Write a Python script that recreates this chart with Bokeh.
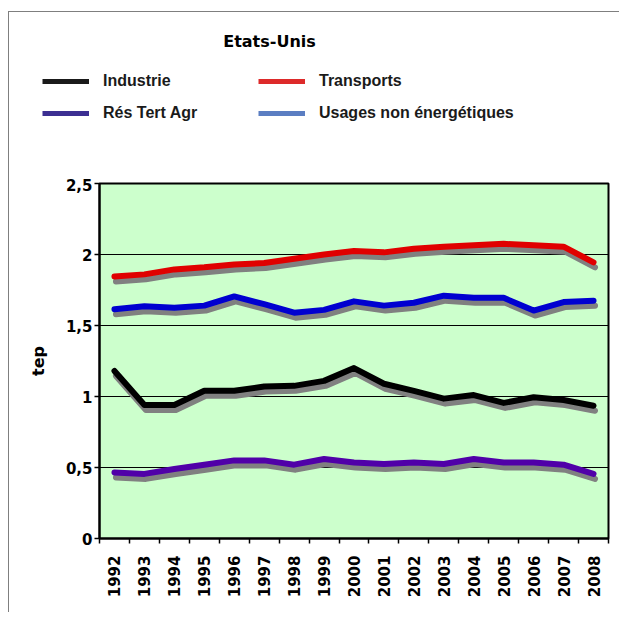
import math
from bokeh.plotting import figure
from bokeh.layouts import column, row
from bokeh.models import Range1d, FixedTicker, Legend, LegendItem, Label
from bokeh.embed import file_html
from bokeh.resources import INLINE

years = list(range(1992, 2009))
industrie = [1.18, 0.94, 0.94, 1.04, 1.04, 1.07, 1.075, 1.11, 1.20, 1.09, 1.04, 0.985, 1.01, 0.955, 0.995, 0.975, 0.935]
transports = [1.845, 1.86, 1.895, 1.91, 1.93, 1.94, 1.97, 2.0, 2.025, 2.015, 2.04, 2.055, 2.065, 2.075, 2.065, 2.055, 1.945]
usages = [1.615, 1.635, 1.625, 1.64, 1.705, 1.65, 1.59, 1.61, 1.67, 1.64, 1.66, 1.71, 1.695, 1.695, 1.605, 1.665, 1.675]
residentiel = [0.465, 0.455, 0.49, 0.52, 0.55, 0.55, 0.52, 0.56, 0.535, 0.525, 0.535, 0.525, 0.56, 0.535, 0.535, 0.52, 0.455]
y_ticks = [0, 0.5, 1, 1.5, 2, 2.5]
y_tick_labels = ["0", "0,5", "1", "1,5", "2", "2,5"]

series = [
    ("Industrie", industrie, "#000000", "#1a1a1a"),
    ("Transports", transports, "#e00000", "#dd2a2a"),
    ("Rés Tert Agr", residentiel, "#5000a8", "#3c2f92"),
    ("Usages non énergétiques", usages, "#0000d0", "#5b7ec2"),
]

TOP_H = 166
W = 610
NAN = float("nan")

# ---------- header figure: title + legend ----------
top = figure(width=W, height=TOP_H, output_backend="svg", toolbar_location=None,
             x_range=Range1d(0, W), y_range=Range1d(0, TOP_H),
             x_axis_type=None, y_axis_type=None,
             min_border=0, outline_line_color=None,
             background_fill_color="white", border_fill_color="white")
top.xgrid.visible = False
top.ygrid.visible = False

top.add_layout(Label(x=260, y=137, x_units="screen", y_units="screen", text="Etats-Unis",
                     text_align="center", text_baseline="middle",
                     text_font="DejaVu Sans", text_font_style="bold", text_font_size="16px",
                     text_color="black"))

items = {}
for name, vals, col, lcol in series:
    r = top.line([NAN, NAN], [NAN, NAN], line_color=lcol, line_width=5)
    items[name] = LegendItem(label=name, renderers=[r])

legend = Legend(items=[items["Industrie"], items["Rés Tert Agr"], items["Transports"],
                       items["Usages non énergétiques"]],
                orientation="vertical", ncols=2,
                location=(33, 55), margin=0, padding=0,
                glyph_width=47, glyph_height=20, label_standoff=14, spacing=12,
                label_width=143, label_height=20,
                border_line_alpha=0, background_fill_alpha=0,
                label_text_font="Liberation Sans", label_text_font_style="bold",
                label_text_font_size="16px", label_text_color="#1a1a1a")
top.add_layout(legend)

# ---------- chart ----------
p = figure(width=W, height=600 - TOP_H, output_backend="svg", toolbar_location=None,
           title=None,
           x_range=Range1d(1991.5, 2008.5), y_range=Range1d(0, 2.5),
           min_border_left=90, min_border_right=11, min_border_top=5, min_border_bottom=74,
           background_fill_color="#ccffcc", border_fill_color="white",
           outline_line_color="black", outline_line_width=2)

# shadow ranges (shift lines a few pixels down / right)
d = 5 / 142
p.extra_y_ranges = {"sy": Range1d(0 + d, 2.5 + d)}
p.extra_x_ranges = {"sx": Range1d(1991.5 - 0.05, 2008.5 - 0.05)}

for name, vals, col, lcol in series:
    p.line(years, vals, line_color="#808080", line_width=6, line_join="round", line_cap="round",
           x_range_name="sx", y_range_name="sy")
for name, vals, col, lcol in series:
    p.line(years, vals, line_color=col, line_width=6, line_join="round", line_cap="round")

# y axis
ya = p.yaxis[0]
ya.ticker = FixedTicker(ticks=y_ticks)
ya.major_label_overrides = {t: l for t, l in zip(y_ticks, y_tick_labels)}
ya.major_tick_out = 5
ya.major_tick_in = 0
ya.minor_tick_out = 0
ya.minor_tick_in = 0
ya.axis_line_width = 2
ya.major_tick_line_width = 1.5
ya.major_label_standoff = 2
ya.major_label_text_font = "DejaVu Sans"
ya.major_label_text_font_style = "bold"
ya.major_label_text_font_size = "15px"
ya.major_label_text_color = "black"
ya.axis_label = "tep"
ya.axis_label_text_font = "DejaVu Sans"
ya.axis_label_text_font_style = "bold"
ya.axis_label_text_font_size = "16px"
ya.axis_label_text_color = "black"
ya.axis_label_standoff = 15

# x axis
xa = p.xaxis[0]
xa.ticker = FixedTicker(ticks=years, minor_ticks=[y - 0.5 for y in years] + [years[-1] + 0.5])
xa.major_tick_out = 0
xa.major_tick_in = 0
xa.minor_tick_out = 5
xa.minor_tick_in = 0
xa.minor_tick_line_color = "black"
xa.minor_tick_line_width = 1.5
xa.axis_line_width = 2
xa.major_label_orientation = math.pi / 2
xa.major_label_standoff = 12
xa.major_label_text_font = "DejaVu Sans"
xa.major_label_text_font_style = "bold"
xa.major_label_text_font_size = "15px"
xa.major_label_text_color = "black"

p.xgrid.visible = False
p.ygrid.ticker = FixedTicker(ticks=[0.5, 1, 1.5, 2])
p.ygrid.grid_line_color = "black"
p.ygrid.grid_line_width = 1

layout = column(row(top), p, spacing=0,
                styles={"border-left": "1px solid #7f7f7f", "border-top": "1px solid #7f7f7f",
                        "margin-top": "11px", "margin-left": "8px"})

open("out.html", "w").write(file_html(layout, INLINE))
